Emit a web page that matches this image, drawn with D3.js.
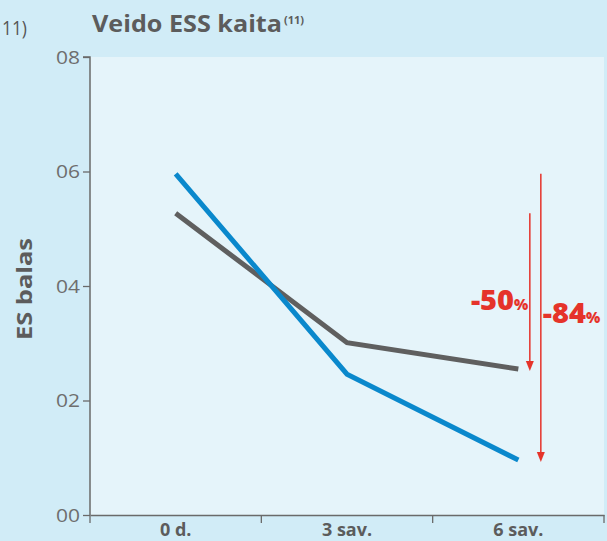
<!DOCTYPE html>
<html><head><meta charset="utf-8">
<script src="https://cdn.jsdelivr.net/npm/d3@7"></script>
<style>html,body{margin:0;padding:0;background:#d1ecf7;}svg{display:block;}</style>
</head><body>
<script>
const categories = ["0 d.", "3 sav.", "6 sav."];
const seriesBlue = [0.596, 0.246, 0.096];
const seriesGrey = [0.527, 0.301, 0.255];
const yTicks = [0, 0.2, 0.4, 0.6, 0.8];
const yTickLabels = ["00", "02", "04", "06", "08"];
const changeLabels = [{big: "-50", small: "%"}, {big: "-84", small: "%"}];

const W = 607, H = 541;
const m = {left: 90, right: 3, top: 57, bottom: 26};
const svg = d3.select("body").append("svg").attr("width", W).attr("height", H);
svg.append("rect").attr("width", W).attr("height", H).attr("fill", "#d1ecf7");

const x = d3.scaleBand().domain(categories).range([m.left, W - m.right]);
const y = d3.scaleLinear().domain([0, 0.8]).range([H - m.bottom, m.top]);
const cx = c => x(c) + x.bandwidth() / 2;

svg.append("rect").attr("x", m.left).attr("y", m.top)
  .attr("width", W - m.right - m.left).attr("height", y(0) - m.top)
  .attr("fill", "#e5f4fa");

const fontMain = "'Open Sans', 'DejaVu Sans', sans-serif";
const txtCol = "#5c5c5c";

// y axis
const yAx = svg.append("g").attr("transform", `translate(${m.left},0)`)
  .call(d3.axisLeft(y).tickValues(yTicks).tickSize(7).tickFormat((d, i) => yTickLabels[i]));
yAx.select(".domain").attr("stroke", "#6a6a6a").attr("stroke-width", 1.5).attr("d", `M-7,${y(0.8)}H0V${y(0)}`);
yAx.selectAll(".tick line").attr("stroke", "#6a6a6a").attr("stroke-width", 1.3);
yAx.selectAll(".tick text").attr("font-family", "'Open Sans', sans-serif").attr("font-weight", 400)
  .attr("font-size", 19).attr("fill", "#6e6e6e").attr("x", -10).attr("dy", "0.33em")
  .attr("textLength", 24).attr("lengthAdjust", "spacingAndGlyphs");

// x axis
const xAx = svg.append("g").attr("transform", `translate(0,${y(0)})`)
  .call(d3.axisBottom(x).tickSize(0).tickPadding(0));
xAx.select(".domain").attr("stroke", "#6a6a6a").attr("stroke-width", 1.5);
xAx.selectAll(".tick text").attr("font-family", fontMain).attr("font-weight", 700)
  .attr("font-size", 18).attr("fill", txtCol).attr("y", 0).attr("dy", 20.5);
const edges = categories.map(c => x(c)).concat([x(categories[categories.length - 1]) + x.bandwidth()]);
xAx.selectAll(".edge").data(edges).join("line")
  .attr("x1", d => d).attr("x2", d => d).attr("y1", 0).attr("y2", 8)
  .attr("stroke", "#6a6a6a").attr("stroke-width", 1.3);

// lines
const line = d3.line().x((d, i) => cx(categories[i])).y(d => y(d));
svg.append("path").datum(seriesGrey).attr("d", line).attr("fill", "none")
  .attr("stroke", "#5f5f5f").attr("stroke-width", 5).attr("stroke-linejoin", "miter");
svg.append("path").datum(seriesBlue).attr("d", line).attr("fill", "none")
  .attr("stroke", "#0a88cc").attr("stroke-width", 5).attr("stroke-linejoin", "miter");

// arrows
const red = "#e5332a";
const arrows = [
  {x: cx(categories[2]) + 11.5, from: seriesGrey[0], to: seriesGrey[2], lab: changeLabels[0], side: "left"},
  {x: cx(categories[2]) + 22.5, from: seriesBlue[0], to: seriesBlue[2], lab: changeLabels[1], side: "right"}
];
arrows.forEach(a => {
  const y1 = y(a.from), y2 = y(a.to) + 2;
  svg.append("line").attr("x1", a.x).attr("x2", a.x).attr("y1", y1).attr("y2", y2 - 8)
    .attr("stroke", red).attr("stroke-width", 1.5);
  svg.append("path").attr("d", `M${a.x - 4},${y2 - 10}L${a.x + 4},${y2 - 10}L${a.x},${y2}Z`).attr("fill", red);
  const t = svg.append("text").attr("font-family", fontMain).attr("font-weight", 800).attr("fill", red);
  if (a.side === "left") {
    t.attr("x", a.x - 1.5).attr("y", 310).attr("text-anchor", "end");
  } else {
    t.attr("x", a.x + 2).attr("y", 323).attr("text-anchor", "start");
  }
  t.append("tspan").attr("font-size", 29).text(a.lab.big);
  t.append("tspan").attr("font-size", 15).text(a.lab.small);
});

// titles
const title = svg.append("text").attr("x", 92).attr("y", 32).attr("font-family", fontMain)
  .attr("font-weight", 700).attr("fill", txtCol);
title.append("tspan").attr("font-size", 23).attr("textLength", 190).attr("lengthAdjust", "spacingAndGlyphs").text("Veido ESS kaita");
title.append("tspan").attr("font-size", 11).attr("dy", -8).attr("dx", 2).text("(11)");

svg.append("text").attr("x", 2).attr("y", 35).attr("text-anchor", "start")
  .attr("font-family", "'Open Sans', sans-serif").attr("font-size", 20).attr("fill", "#555")
  .attr("textLength", 25).attr("lengthAdjust", "spacingAndGlyphs").text("11)");

svg.append("text").attr("transform", "translate(32,289) rotate(-90)").attr("text-anchor", "middle")
  .attr("font-family", fontMain).attr("font-weight", 700).attr("font-size", 22).attr("fill", txtCol)
  .attr("textLength", 102).attr("lengthAdjust", "spacingAndGlyphs").text("ES balas");
</script>
</body></html>
